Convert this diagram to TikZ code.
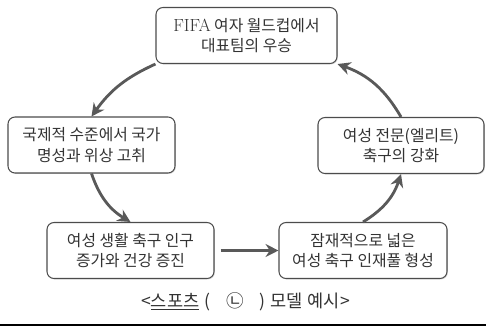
\documentclass[tikz,border=0pt]{standalone}
\usepackage{fontspec}
\usepackage{xcolor}
\usepackage{tikz}
\usetikzlibrary{positioning,arrows.meta,shadows}
\newfontfamily\kr{Noto Sans CJK KR}

\begin{document}
\begin{tikzpicture}[x=0.03cm, y=-0.03cm,
  stage/.style={draw=black!70, line width=0.9pt, rounded corners=6pt, fill=white,
                drop shadow={shadow xshift=0.8pt, shadow yshift=-0.8pt, fill=black!30},
                minimum width=#1, minimum height=1.68cm, align=center,
                font=\kr\fontsize{13.5}{17.5}\selectfont, text=black!80},
  flow/.style={-{Stealth[length=11pt,width=11pt]}, line width=2.4pt, draw=black!65}
]
  \useasboundingbox (0,0) rectangle (486,327);

  \node[stage=5.43cm] (top) at (246.5,35.5) {{\rmfamily\fontsize{15}{17.5}\selectfont FIFA} 여자 월드컵에서\\대표팀의 우승};
  \node[stage=5.01cm] (left) at (91.5,145) {국제적 수준에서 국가\\명성과 위상 고취};
  \node[stage=4.98cm] (right) at (401,145.5) {여성 전문(엘리트)\\축구의 강화};
  \node[stage=5.01cm] (bl) at (130.5,250.5) {여성 생활 축구 인구\\증가와 건강 증진};
  \node[stage=5.04cm] (br) at (363,250.5) {잠재적으로 넓은\\여성 축구 인재풀 형성};

  \node[font=\kr\fontsize{15}{17}\selectfont, text=black!80] (cap) at (245.5,302)
    {<\underline{스포츠}\hspace{0.15cm}(\hspace{0.5cm}㉡\hspace{0.45cm})\hspace{0.15cm}모델\hspace{0.15cm}예시>};

  \draw[flow] (top.south west) to[bend right=15] (left.north);
  \draw[flow] (left.south) to[bend right=20] (bl.north);
  \draw[flow, shorten <=0.18cm] (bl.east) -- (br.west);
  \draw[flow] (br.north) to[bend right=20] (right.south);
  \draw[flow] (right.north) to[bend right=20] (top.south east);

  \draw[line width=1.6pt] (0,325) -- (486,325);
\end{tikzpicture}
\end{document}
